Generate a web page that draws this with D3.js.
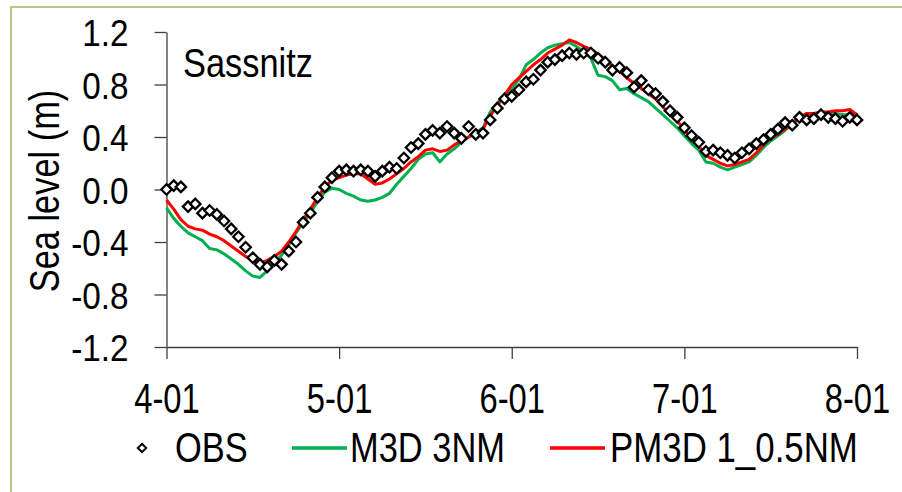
<!DOCTYPE html>
<html>
<head>
<meta charset="utf-8">
<script src="https://cdn.jsdelivr.net/npm/d3@7"></script>
<style>
  html, body { margin: 0; padding: 0; background: #fff; }
  svg { display: block; font-family: "Liberation Sans", Arial, sans-serif; }
</style>
</head>
<body>
<svg id="chart" width="902" height="492"></svg>
<script>
// hourly values, 4-01 00:00 .. 8-01 00:00
let obs = [
    0.00, 0.03, 0.02, -0.13, -0.11, -0.18, -0.16, -0.19, -0.24, -0.30,
    -0.36, -0.44, -0.52, -0.57, -0.59, -0.54, -0.57, -0.47, -0.40, -0.25,
    -0.18, -0.06, 0.02, 0.09, 0.14, 0.15, 0.14, 0.15, 0.14, 0.10,
    0.14, 0.17, 0.16, 0.24, 0.32, 0.35, 0.42, 0.45, 0.43, 0.48,
    0.43, 0.39, 0.48, 0.42, 0.43, 0.53, 0.62, 0.69, 0.71, 0.76,
    0.82, 0.84, 0.91, 0.97, 0.99, 1.02, 1.04, 1.03, 1.04, 1.04,
    1.00, 0.97, 0.91, 0.93, 0.89, 0.78, 0.83, 0.76, 0.73, 0.67,
    0.60, 0.55, 0.47, 0.41, 0.36, 0.29, 0.30, 0.28, 0.26, 0.24,
    0.28, 0.31, 0.35, 0.38, 0.42, 0.46, 0.51, 0.49, 0.55, 0.53,
    0.54, 0.57, 0.55, 0.54, 0.52, 0.55, 0.53
];
let m3d = [
    -0.14, -0.22, -0.28, -0.33, -0.36, -0.39, -0.45, -0.46, -0.49, -0.53,
    -0.57, -0.62, -0.66, -0.67, -0.62, -0.56, -0.50, -0.42, -0.33, -0.25,
    -0.18, -0.09, -0.02, 0.01, 0.00, -0.03, -0.05, -0.08, -0.09, -0.08,
    -0.06, -0.03, 0.04, 0.10, 0.16, 0.23, 0.27, 0.28, 0.21, 0.27,
    0.31, 0.36, 0.40, 0.43, 0.47, 0.59, 0.66, 0.71, 0.77, 0.84,
    0.95, 0.99, 1.04, 1.08, 1.10, 1.11, 1.12, 1.09, 1.05, 1.00,
    0.87, 0.86, 0.83, 0.76, 0.77, 0.73, 0.70, 0.67, 0.62, 0.57,
    0.52, 0.47, 0.41, 0.35, 0.30, 0.21, 0.20, 0.17, 0.15, 0.17,
    0.19, 0.21, 0.26, 0.32, 0.37, 0.41, 0.45, 0.50, 0.54, 0.56,
    0.57, 0.57, 0.58, 0.58, 0.57, 0.57, 0.54
];
let pm3d = [
    -0.08, -0.15, -0.23, -0.28, -0.30, -0.31, -0.34, -0.36, -0.39, -0.43,
    -0.47, -0.51, -0.54, -0.56, -0.54, -0.51, -0.47, -0.40, -0.32, -0.23,
    -0.15, -0.06, 0.02, 0.07, 0.09, 0.11, 0.12, 0.12, 0.08, 0.04,
    0.05, 0.08, 0.12, 0.16, 0.21, 0.25, 0.30, 0.31, 0.29, 0.30,
    0.34, 0.37, 0.40, 0.43, 0.46, 0.56, 0.64, 0.72, 0.80, 0.85,
    0.90, 0.95, 0.99, 1.04, 1.07, 1.10, 1.14, 1.12, 1.09, 1.07,
    1.03, 0.99, 0.94, 0.90, 0.85, 0.81, 0.77, 0.73, 0.69, 0.63,
    0.57, 0.52, 0.46, 0.39, 0.33, 0.26, 0.23, 0.20, 0.18, 0.19,
    0.21, 0.23, 0.28, 0.34, 0.39, 0.42, 0.46, 0.51, 0.55, 0.58,
    0.58, 0.59, 0.59, 0.60, 0.60, 0.61, 0.57
];
let xTicks = [0, 24, 48, 72, 96];
let xTickLabels = ["4-01", "5-01", "6-01", "7-01", "8-01"];
let yTicks = [1.2, 0.8, 0.4, 0.0, -0.4, -0.8, -1.2];
let seriesNames = ["OBS", "M3D 3NM", "PM3D 1_0.5NM"];
let seriesColors = ["#000000", "#00b050", "#ff0000"];

let svg = d3.select("#chart");

// frame (only top and left edges fall inside the picture)
svg.append("rect")
    .attr("x", 11).attr("y", 7).attr("width", 1000).attr("height", 1000)
    .attr("fill", "none").attr("stroke", "#9bbb59").attr("stroke-width", 1.5);

let x = d3.scaleLinear().domain([0, 96]).range([166.5, 857]);
let y = d3.scaleLinear().domain([-1.2, 1.2]).range([347, 32]);

let axisColor = "#404040";

let yAxis = svg.append("g")
    .attr("transform", `translate(${x(0)},0)`)
    .call(d3.axisLeft(y).tickValues(yTicks).tickSize(12).tickSizeOuter(0).tickFormat(d => d.toFixed(1)));
yAxis.select(".domain").attr("stroke", axisColor).attr("stroke-width", 1.3);
yAxis.selectAll(".tick line").attr("stroke", axisColor).attr("stroke-width", 1.3);
yAxis.selectAll(".tick text")
    .attr("x", null).attr("dy", null)
    .attr("text-anchor", "end")
    .attr("font-size", 37).attr("fill", "#000")
    .attr("transform", "translate(-38,13.5) scale(0.9,1)");

let xAxis = svg.append("g")
    .attr("transform", `translate(0,${y(-1.2)})`)
    .call(d3.axisBottom(x).tickValues(xTicks).tickSize(12).tickSizeOuter(0).tickFormat((d, i) => xTickLabels[i]));
xAxis.select(".domain").attr("stroke", axisColor).attr("stroke-width", 1.3);
xAxis.selectAll(".tick line").attr("stroke", axisColor).attr("stroke-width", 1.3);
xAxis.selectAll(".tick text")
    .attr("y", null).attr("dy", null)
    .attr("text-anchor", "middle")
    .attr("font-size", 42).attr("fill", "#000")
    .attr("transform", "translate(0,66) scale(0.78,1)");

// axis title
svg.append("text")
    .attr("transform", "translate(59,191) rotate(-90) scale(0.8,1)")
    .attr("text-anchor", "middle")
    .attr("font-size", 43)
    .text("Sea level (m)");

// station label
svg.append("text")
    .attr("transform", "translate(183,77) scale(0.86,1)")
    .attr("font-size", 40)
    .text("Sassnitz");

let line = d3.line().x((d, i) => x(i)).y(d => y(d));

svg.append("path").datum(m3d)
    .attr("d", line).attr("fill", "none")
    .attr("stroke", seriesColors[1]).attr("stroke-width", 3).attr("stroke-linejoin", "round");
svg.append("path").datum(pm3d)
    .attr("d", line).attr("fill", "none")
    .attr("stroke", seriesColors[2]).attr("stroke-width", 3).attr("stroke-linejoin", "round");

let diamond = s => `M0,${-s} L${s},0 L0,${s} L${-s},0 Z`;

svg.append("g").selectAll("path")
    .data(obs)
    .join("path")
    .attr("transform", (d, i) => `translate(${x(i)},${y(d)})`)
    .attr("d", diamond(5.2))
    .attr("fill", "#fff")
    .attr("stroke", "#000")
    .attr("stroke-width", 2.3);

// legend
let legend = svg.append("g").attr("transform", "translate(0,448)");
legend.append("path")
    .attr("transform", "translate(142,0)")
    .attr("d", diamond(4.2))
    .attr("fill", "#fff").attr("stroke", "#000").attr("stroke-width", 2);
legend.append("text")
    .attr("transform", "translate(175,14) scale(0.82,1)")
    .attr("font-size", 42).text(seriesNames[0]);

legend.append("line")
    .attr("x1", 292).attr("x2", 347).attr("y1", 0).attr("y2", 0)
    .attr("stroke", seriesColors[1]).attr("stroke-width", 3.5);
legend.append("text")
    .attr("transform", "translate(350,14) scale(0.82,1)")
    .attr("font-size", 42).text(seriesNames[1]);

legend.append("line")
    .attr("x1", 550).attr("x2", 605).attr("y1", 0).attr("y2", 0)
    .attr("stroke", seriesColors[2]).attr("stroke-width", 3.5);
legend.append("text")
    .attr("transform", "translate(610,14) scale(0.83,1)")
    .attr("font-size", 42).text(seriesNames[2]);
</script>
</body>
</html>
